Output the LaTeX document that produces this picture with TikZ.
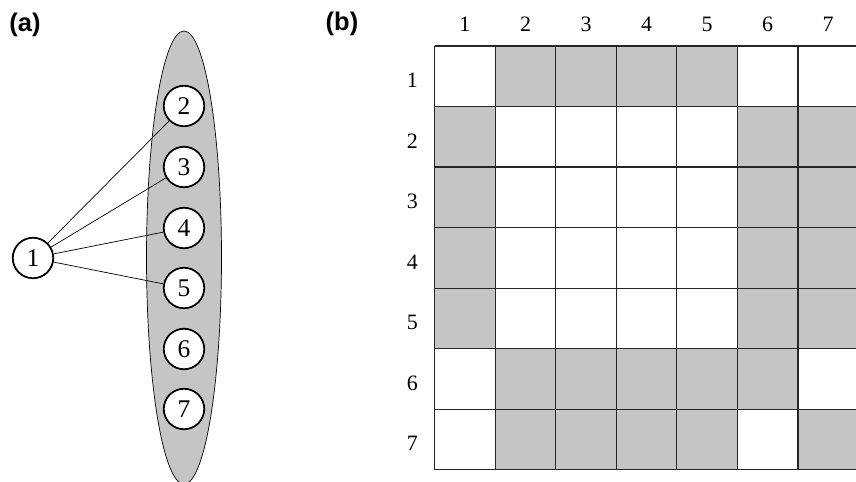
\documentclass[tikz,border=0pt]{standalone}
\usepackage{fontspec}
\setmainfont{Liberation Serif}
\setsansfont{Liberation Sans}
\usetikzlibrary{positioning}
\definecolor{cellgray}{RGB}{196,197,196}
\tikzset{
    vertex/.style={circle, draw, line width=1pt, fill=white, minimum size=0.81cm, inner sep=0pt, font=\fontsize{14.5}{16}\selectfont},
    panel/.style={font=\sffamily\bfseries\fontsize{14.5}{16}\selectfont},
    idx/.style={font=\fontsize{12.5}{14}\selectfont}
}

\begin{document}
\begin{tikzpicture}[x=0.02cm, y=-0.02cm]
\useasboundingbox (0,0) rectangle (856,482);

% panel labels
\node[panel] (pa) at (25,25) {(a)};
\node[panel] (pb) at (342,24) {(b)};

% (a) vertex 1 and the group 2..7
\draw[fill=cellgray] (184,257.5) ellipse [x radius=37.5, y radius=226.5];

\node[vertex] (n1) at (33,258) {1};
\foreach \i/\y in {2/106, 3/167, 4/228, 5/288, 6/349, 7/409}
    \node[vertex] (n\i) at (184,\y) {\i};

\draw (n1) -- (n2);
\draw (n1) -- (n3);
\draw (n1) -- (n4);
\draw (n1) -- (n5);

% (b) the 7x7 table
\begin{scope}[shift={(434.7,46)}, x=1.211cm, y=-1.211cm]
\foreach \r/\cols in {1/{2,3,4,5}, 2/{1,6,7}, 3/{1,6,7}, 4/{1,6,7},
                      5/{1,6,7}, 6/{2,3,4,5,6}, 7/{2,3,4,5,7}}
    \foreach \c in \cols
        \fill[cellgray] (\c-1,\r-1) rectangle (\c,\r);
\foreach \k in {0,...,7} {
    \draw[line width=0.7pt, black!85] (\k,0) -- (\k,7);
    \draw[line width=0.7pt, black!85] (0,\k) -- (7,\k);
}

\foreach \k in {1,...,7} {
    \node[idx] (col\k) at (\k-0.5,-0.36) {\k};
    \node[idx] (row\k) at (-0.37,\k-0.43) {\k};
}
\end{scope}
\end{tikzpicture}
\end{document}
